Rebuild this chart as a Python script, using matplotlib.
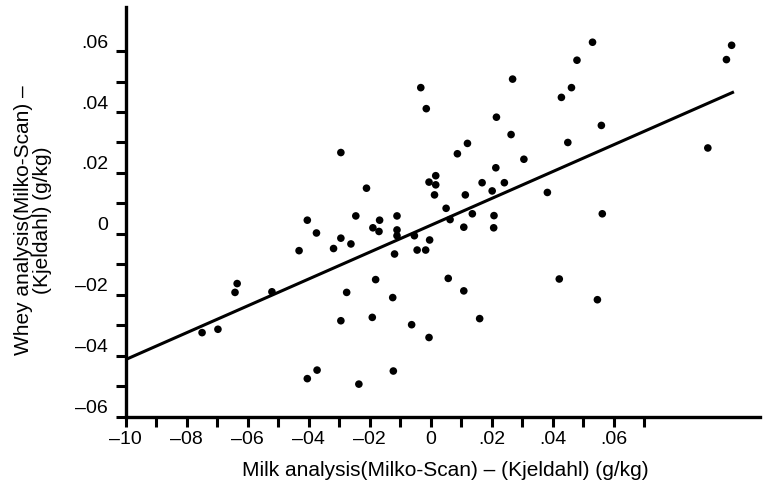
import numpy as np
import matplotlib
matplotlib.use('Agg')
import matplotlib.pyplot as plt
import matplotlib.transforms as mtransforms

# differences (g/kg)
milk_diff = [-0.0032, -0.0014, -0.0294, -0.0210, 0.0017, -0.0005, 0.0017, 0.0013,
             -0.0404, -0.0374, -0.0245, -0.0189, -0.0167, -0.0169, -0.0110, -0.0110,
             -0.0110, -0.0294, 0.0269, 0.0531, 0.0480, 0.0987, 0.0970, 0.0462,
             0.0429, 0.0216, 0.0560, 0.0264, 0.0121, 0.0088, 0.0450, 0.0909,
             0.0306, 0.0214, 0.0169, 0.0242, 0.0114, 0.0202, 0.0383, 0.0051,
             0.0064, 0.0137, 0.0208, 0.0563, 0.0109, 0.0207, -0.0053, -0.0003,
             -0.0318, -0.0261, -0.0431, -0.0044, -0.0016, -0.0118, -0.0634, -0.0641,
             -0.0520, -0.0180, -0.0275, -0.0124, -0.0294, -0.0191, -0.0062, -0.0005,
             -0.0749, -0.0697, -0.0404, -0.0372, -0.0122, -0.0235, 0.0058, 0.0109,
             0.0161, 0.0422, 0.0547]
whey_diff = [0.0480, 0.0411, 0.0267, 0.0150, 0.0191, 0.0170, 0.0161, 0.0128,
             0.0045, 0.0003, 0.0059, 0.0020, 0.0045, 0.0008, 0.0059, 0.0013,
             -0.0006, -0.0014, 0.0508, 0.0629, 0.0570, 0.0619, 0.0572, 0.0480,
             0.0448, 0.0383, 0.0356, 0.0326, 0.0297, 0.0263, 0.0300, 0.0282,
             0.0245, 0.0217, 0.0168, 0.0168, 0.0128, 0.0141, 0.0136, 0.0084,
             0.0047, 0.0066, 0.0060, 0.0066, 0.0022, 0.0020, -0.0006, -0.0020,
             -0.0048, -0.0033, -0.0055, -0.0053, -0.0053, -0.0066, -0.0163, -0.0192,
             -0.0190, -0.0150, -0.0192, -0.0209, -0.0285, -0.0274, -0.0298, -0.0340,
             -0.0324, -0.0313, -0.0475, -0.0447, -0.0450, -0.0493, -0.0146, -0.0187,
             -0.0278, -0.0148, -0.0216]

# regression line
fit_slope = 0.4406
fit_intercept = 0.0028
fit_range = [-0.099, 0.099]

x_ticks = [-0.10, -0.09, -0.08, -0.07, -0.06, -0.05, -0.04, -0.03, -0.02,
           -0.01, 0.0, 0.01, 0.02, 0.03, 0.04, 0.05, 0.06, 0.07]
x_labels = ['–10', '', '–08', '', '–06', '', '–04', '', '–02',
            '', '0', '', '.02', '', '.04', '', '.06', '']
y_ticks = [-0.06, -0.05, -0.04, -0.03, -0.02, -0.01, 0.0,
           0.01, 0.02, 0.03, 0.04, 0.05, 0.06]
y_labels = ['–06', '', '–04', '', '–02', '', '0', '', '.02', '', '.04', '', '.06']

plt.rcParams['font.family'] = ['Liberation Sans', 'DejaVu Sans']

fig = plt.figure(figsize=(7.7, 4.92), dpi=100)
ax = fig.add_axes([0.163, 0.153, 0.824, 0.833])

ax.scatter(milk_diff, whey_diff, s=30, color='black', edgecolors='none', zorder=3)

fx = np.array(fit_range)
ax.plot(fx, fit_slope * fx + fit_intercept, color='black', linewidth=2.2)

ax.set_xlim(-0.10, 0.108)
ax.set_ylim(-0.06, 0.0745)

for side in ['top', 'right']:
    ax.spines[side].set_visible(False)
for side in ['left', 'bottom']:
    ax.spines[side].set_linewidth(2.4)

ax.set_xticks(x_ticks)
ax.set_xticklabels(x_labels)
ax.set_yticks(y_ticks)
ax.set_yticklabels(y_labels)
ax.tick_params(axis='both', direction='out', length=7.5, width=2.2,
               labelsize=14, color='black')
ax.tick_params(axis='x', pad=3)
ax.tick_params(axis='y', pad=5)

# the y labels sit a little above their ticks in the original
shift = mtransforms.ScaledTranslation(0, 0.10, fig.dpi_scale_trans)
for lab in ax.get_yticklabels():
    lab.set_transform(lab.get_transform() + shift)

fig.text(445 / 770, 1 - 471 / 492, 'Milk analysis(Milko-Scan) – (Kjeldahl) (g/kg)',
         ha='center', va='center', fontsize=15)
fig.text(33 / 770, 1 - 220 / 492, 'Whey analysis(Milko-Scan) –\n(Kjeldahl) (g/kg)',
         ha='center', va='center', rotation=90, multialignment='center',
         fontsize=15, linespacing=1.05)

fig.savefig('out.png', dpi=100)
